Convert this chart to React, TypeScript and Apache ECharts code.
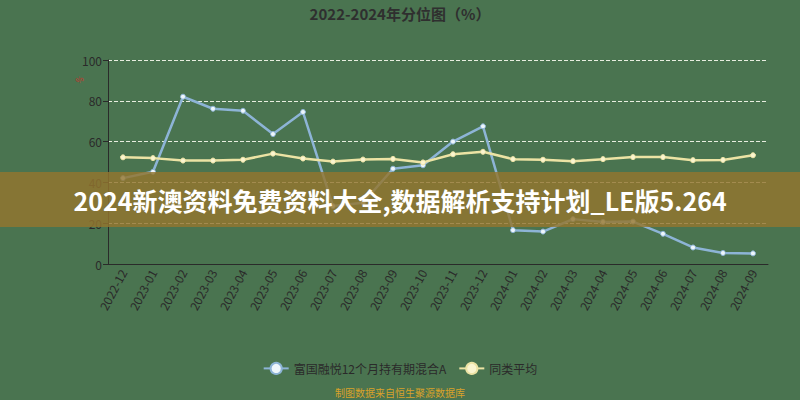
import * as echarts from 'echarts';
import { useEffect, useRef } from 'react';

const months = [
  '2022-12', '2023-01', '2023-02', '2023-03', '2023-04', '2023-05', '2023-06', '2023-07',
  '2023-08', '2023-09', '2023-10', '2023-11', '2023-12', '2024-01', '2024-02', '2024-03',
  '2024-04', '2024-05', '2024-06', '2024-07', '2024-08', '2024-09',
];

const fundName = '富国融悦12个月持有期混合A';
const fundValues = [
  42.1, 45.2, 82.0, 76.1, 75.1, 63.7, 74.5, 28.4, 30.0, 46.7, 48.4,
  60.0, 67.5, 16.6, 15.9, 22.0, 20.6, 20.8, 14.8, 8.1, 5.4, 5.2,
];

const peerName = '同类平均';
const peerValues = [
  52.3, 51.9, 50.7, 50.7, 51.1, 54.1, 51.7, 50.2, 51.2, 51.5, 49.8,
  53.8, 55.0, 51.4, 51.1, 50.4, 51.4, 52.4, 52.4, 50.9, 51.0, 53.3,
];

const yTicks = { min: 0, max: 100, interval: 20 };

const titleText = '2022-2024年分位图（%）';
const bannerText = '2024新澳资料免费资料大全,数据解析支持计划_LE版5.264';
const sourceText = '制图数据来自恒生聚源数据库';

const font = '"Noto Sans CJK SC", "Noto Sans", sans-serif';

function buildOption() {
  return {
    animation: false,
    backgroundColor: '#4a7450',
    textStyle: { fontFamily: font },
    title: {
      text: titleText,
      left: 'center',
      top: 1,
      textStyle: { color: '#2f2f2f', fontSize: 15, fontWeight: 'bold', fontFamily: font },
    },
    legend: {
      bottom: 20,
      left: 'center',
      itemWidth: 25,
      itemHeight: 14,
      itemGap: 12,
      textStyle: { color: '#2a2a2a', fontSize: 12, fontFamily: font },
      data: [fundName, peerName],
    },
    grid: { left: 108, right: 32, top: 60, bottom: 136 },
    xAxis: {
      type: 'category',
      data: months,
      boundaryGap: true,
      axisLine: { lineStyle: { color: '#2a2a2a' } },
      axisTick: { lineStyle: { color: '#2a2a2a' } },
      axisLabel: { color: '#2a2a2a', fontSize: 12, rotate: 62, margin: 6, interval: 0 },
    },
    yAxis: {
      type: 'value',
      ...yTicks,
      axisLine: { show: true, lineStyle: { color: '#2a2a2a' } },
      axisTick: { show: true, lineStyle: { color: '#2a2a2a' } },
      axisLabel: { color: '#2a2a2a', fontSize: 12, margin: 6 },
      splitLine: { lineStyle: { color: '#e8eee0', type: 'dashed', width: 1 } },
    },
    series: [
      {
        name: fundName,
        type: 'line',
        data: fundValues,
        symbol: 'circle',
        symbolSize: 5,
        lineStyle: { color: '#8db4d6', width: 2.5 },
        itemStyle: { color: '#eef6fb', borderColor: '#8db4d6', borderWidth: 1 },
      },
      {
        name: peerName,
        type: 'line',
        data: peerValues,
        symbol: 'circle',
        symbolSize: 5,
        lineStyle: { color: '#ece3a4', width: 2.5 },
        itemStyle: { color: '#fbf5d0', borderColor: '#ece3a4', borderWidth: 1 },
      },
    ],
    graphic: [
      {
        type: 'text',
        left: 74,
        top: 74,
        z: 50,
        rotation: 0.6,
        style: { text: '%', fill: '#c8322a', fontSize: 8, fontFamily: font },
      },
      {
        type: 'rect',
        z: 100,
        shape: { x: 0, y: 172, width: 800, height: 55 },
        style: { fill: 'rgba(148,117,46,0.82)' },
      },
      {
        type: 'text',
        z: 101,
        x: 400,
        y: 200,
        style: {
          text: bannerText,
          fill: '#ffffff',
          fontSize: 25,
          fontWeight: 'bold',
          fontFamily: font,
          align: 'center',
          verticalAlign: 'middle',
        },
      },
      {
        type: 'text',
        z: 50,
        x: 400,
        y: 392,
        style: {
          text: sourceText,
          fill: '#d9a22a',
          fontSize: 10,
          fontFamily: font,
          align: 'center',
          verticalAlign: 'middle',
        },
      },
    ],
  };
}

export default function App() {
  const ref = useRef<HTMLDivElement | null>(null);

  useEffect(() => {
    document.body.style.margin = '0';
    if (!ref.current) return;
    const chart = echarts.init(ref.current, undefined, { renderer: 'svg' });
    chart.setOption(buildOption());
    return () => chart.dispose();
  }, []);

  return <div ref={ref} style={{ width: 800, height: 400 }} />;
}
